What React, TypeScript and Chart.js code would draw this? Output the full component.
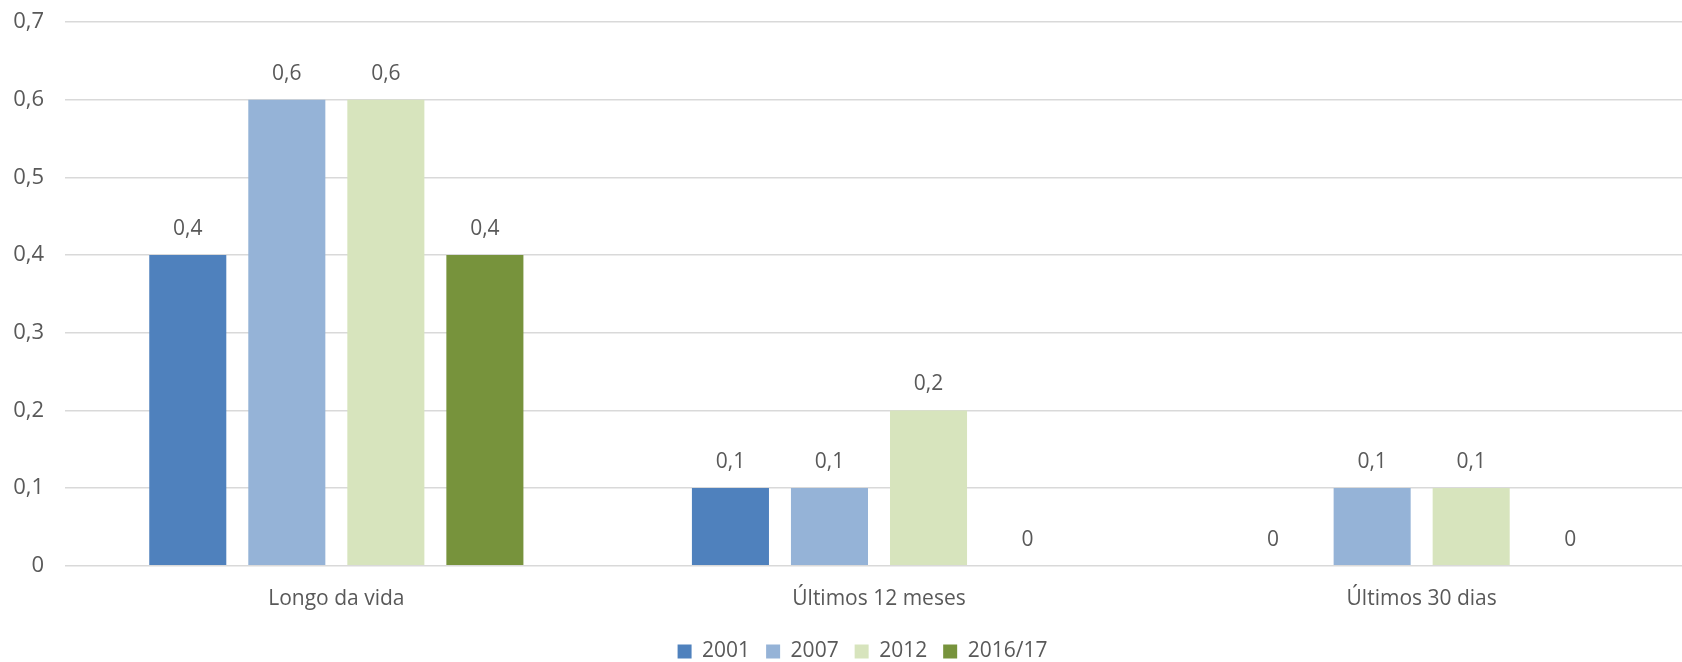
import React, { useEffect, useRef } from "react";
import { Chart, registerables } from "chart.js";

Chart.register(...registerables);

const categories = ["Longo da vida", "Últimos 12 meses", "Últimos 30 dias"];
const seriesLabels = ["2001", "2007", "2012", "2016/17"];
const values2001 = [0.4, 0.1, 0];
const values2007 = [0.6, 0.1, 0.1];
const values2012 = [0.6, 0.2, 0.1];
const values2016 = [0.4, 0, 0];
const colors = ["#4F81BD", "#95B3D7", "#D7E4BD", "#77933C"];

const FONT = "'Open Sans', 'DejaVu Sans', sans-serif";
const TEXT = "#595959";

const fmt = (v: number) => (v === 0 ? "0" : String(Number(v.toFixed(2))).replace(".", ","));

const labelPlugin = {
  id: "barValueLabels",
  afterLayout(chart: any) {
    if (chart.legend) {
      chart.legend.left += 16;
      chart.legend.right += 16;
    }
  },
  afterDatasetsDraw(chart: any) {
    const ctx = chart.ctx;
    ctx.save();
    ctx.font = `21px ${FONT}`;
    ctx.fillStyle = TEXT;
    ctx.textAlign = "center";
    ctx.textBaseline = "middle";
    chart.data.datasets.forEach((ds: any, di: number) => {
      const meta = chart.getDatasetMeta(di);
      meta.data.forEach((bar: any, i: number) => {
        const v = ds.data[i];
        ctx.fillText(fmt(v), bar.x, bar.y - 26);
      });
    });
    ctx.restore();
  },
};

export default function App() {
  const ref = useRef<HTMLCanvasElement | null>(null);
  useEffect(() => {
    if (!ref.current) return;
    const all = [values2001, values2007, values2012, values2016];
    const chart = new Chart(ref.current, {
      type: "bar",
      data: {
        labels: categories,
        datasets: seriesLabels.map((l, i) => ({
          label: l,
          data: all[i],
          backgroundColor: colors[i],
          borderWidth: 0,
          categoryPercentage: 0.73,
          barPercentage: 0.778,
        })),
      },
      options: {
        responsive: false,
        animation: false,
        layout: { padding: { left: 0, right: 0, top: 22, bottom: -10 } },
        plugins: {
          legend: {
            position: "bottom",
            labels: {
              font: { family: FONT, size: 21 },
              color: TEXT,
              boxWidth: 14,
              boxHeight: 14,
              padding: 16,
            },
          },
          tooltip: { enabled: false },
        },
        scales: {
          x: {
            grid: { display: false },
            border: { display: false },
            ticks: { font: { family: FONT, size: 21 }, color: TEXT, padding: 13 },
          },
          y: {
            min: 0,
            max: 0.7,
            border: { display: false },
            grid: { color: "#D9D9D9", lineWidth: 1.5, drawTicks: false },
            afterFit: (scale: any) => {
              scale.width = 65;
              scale.paddingTop = 0;
            },
            ticks: {
              stepSize: 0.1,
              font: { family: FONT, size: 22 },
              color: TEXT,
              padding: 21,
              callback: (v: any) => fmt(Number(v)),
            },
          },
        },
      },
      plugins: [labelPlugin],
    });
    return () => chart.destroy();
  }, []);
  return (
    <div style={{ position: "absolute", left: 0, top: 0, width: 1682, height: 662, overflow: "hidden", background: "#fff" }}>
      <canvas ref={ref} width={1693} height={662} style={{ width: 1693, height: 662, display: "block" }} />
    </div>
  );
}
